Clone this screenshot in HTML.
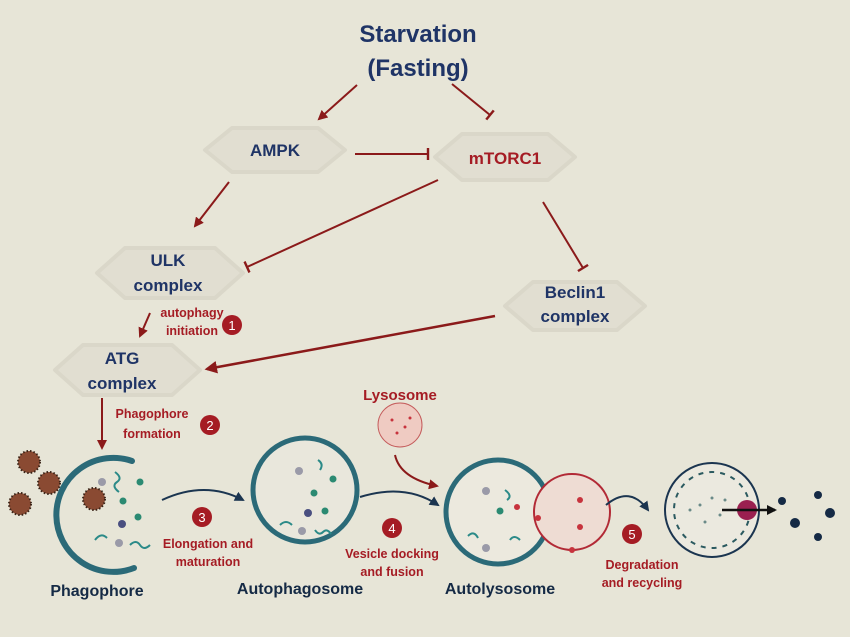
<!DOCTYPE html>
<html><head><meta charset="utf-8"><style>
html,body{margin:0;padding:0;background:#e7e5d7;}
svg{display:block;font-family:"Liberation Sans",sans-serif;font-weight:bold;}
</style></head><body>
<svg width="850" height="637" viewBox="0 0 850 637" xmlns="http://www.w3.org/2000/svg">
<defs>
<marker id="ar" viewBox="0 0 10 10" refX="8" refY="5" markerWidth="5" markerHeight="5" orient="auto"><path d="M0,0 L10,5 L0,10 z" fill="#8b1a1a"/></marker>
<marker id="tb" viewBox="0 0 10 10" refX="5" refY="5" markerWidth="6" markerHeight="6" orient="auto"><path d="M5,0 L5,10" stroke="#8b1a1a" stroke-width="2"/></marker>
<marker id="an" viewBox="0 0 10 10" refX="8" refY="5" markerWidth="5" markerHeight="5" orient="auto"><path d="M0,0 L10,5 L0,10 z" fill="#1b3550"/></marker>
<marker id="ak" viewBox="0 0 10 10" refX="8" refY="5" markerWidth="4" markerHeight="4" orient="auto"><path d="M0,0 L10,5 L0,10 z" fill="#111"/></marker>
</defs>
<rect width="850" height="637" fill="#e7e5d7"/>
<g fill="#e1ded1" stroke="#dad7c9" stroke-width="4" stroke-linejoin="round">
<path d="M205,150 L232,128 L318,128 L345,150 L318,172 L232,172 Z"/>
<path d="M435,157 L462,134 L548,134 L575,157 L548,180 L462,180 Z"/>
<path d="M97,273 L125,248 L215,248 L243,273 L215,298 L125,298 Z"/>
<path d="M505,306 L533,282 L617,282 L645,306 L617,330 L533,330 Z"/>
<path d="M55,370 L83,345 L172,345 L200,370 L172,395 L83,395 Z"/>
</g>
<g text-anchor="middle">
<text x="418" y="42" font-size="24" fill="#1f3466">Starvation</text>
<text x="418" y="76" font-size="24" fill="#1f3466">(Fasting)</text>
<text x="275" y="156" font-size="17" fill="#1f3466">AMPK</text>
<text x="505" y="164" font-size="17" fill="#a51c24">mTORC1</text>
<text x="168" y="266" font-size="17" fill="#1f3466">ULK</text>
<text x="168" y="291" font-size="17" fill="#1f3466">complex</text>
<text x="575" y="298" font-size="17" fill="#1f3466">Beclin1</text>
<text x="575" y="322" font-size="17" fill="#1f3466">complex</text>
<text x="122" y="364" font-size="17" fill="#1f3466">ATG</text>
<text x="122" y="389" font-size="17" fill="#1f3466">complex</text>
</g>
<g stroke="#8b1a1a" stroke-width="2" fill="none">
<line x1="357" y1="85" x2="319" y2="119" marker-end="url(#ar)"/>
<line x1="452" y1="84" x2="490" y2="115" marker-end="url(#tb)"/>
<line x1="355" y1="154" x2="428" y2="154" marker-end="url(#tb)"/>
<line x1="229" y1="182" x2="195" y2="226" marker-end="url(#ar)"/>
<line x1="438" y1="180" x2="247" y2="267" marker-end="url(#tb)"/>
<line x1="543" y1="202" x2="583" y2="268" marker-end="url(#tb)"/>
<line x1="495" y1="316" x2="207" y2="369" stroke-width="2.5" marker-end="url(#ar)"/>
<line x1="150" y1="313" x2="140" y2="336" marker-end="url(#ar)"/>
<line x1="102" y1="398" x2="102" y2="448" marker-end="url(#ar)"/>
</g>
<g font-size="12.5" fill="#a51c24" text-anchor="middle">
<text x="192" y="317">autophagy</text>
<text x="192" y="335">initiation</text>
<text x="152" y="418">Phagophore</text>
<text x="152" y="438">formation</text>
<text x="208" y="548">Elongation and</text>
<text x="208" y="566">maturation</text>
<text x="392" y="558">Vesicle docking</text>
<text x="392" y="576">and fusion</text>
<text x="642" y="569">Degradation</text>
<text x="642" y="587">and recycling</text>
<text x="400" y="400" font-size="15">Lysosome</text>
</g>
<g fill="#a51c24">
<circle cx="232" cy="325" r="10"/><circle cx="210" cy="425" r="10"/><circle cx="202" cy="517" r="10"/><circle cx="392" cy="528" r="10"/><circle cx="632" cy="534" r="10"/>
</g>
<g fill="#fff" font-size="13" text-anchor="middle" font-weight="normal">
<text x="232" y="330">1</text><text x="210" y="430">2</text><text x="202" y="522">3</text><text x="392" y="533">4</text><text x="632" y="539">5</text>
</g>
<g text-anchor="middle" font-size="16" fill="#152a45">
<text x="97" y="596">Phagophore</text>
<text x="300" y="594">Autophagosome</text>
<text x="500" y="594">Autolysosome</text>
</g>
<!-- viruses -->
<g fill="#8a4a32" stroke="#3a2418" stroke-width="2" stroke-dasharray="1.5 2">
<circle cx="29" cy="462" r="11"/><circle cx="49" cy="483" r="11"/><circle cx="20" cy="504" r="11"/><circle cx="94" cy="499" r="11"/><circle cx="290" cy="488" r="11"/><circle cx="477" cy="512" r="11"/>
</g>
<!-- phagophore -->
<path d="M132,461 A57,57 0 1 0 134,568" fill="none" stroke="#2b6a78" stroke-width="6" stroke-linecap="round"/>
<circle cx="305" cy="490" r="52" fill="#e9e7dc" stroke="#2b6a78" stroke-width="5"/>
<circle cx="498" cy="512" r="52" fill="#ece9de" stroke="#2b6a78" stroke-width="5"/>
<circle cx="572" cy="512" r="38" fill="#eedcd3" stroke="#b22a36" stroke-width="2"/>
<circle cx="400" cy="425" r="22" fill="#efcbc2" stroke="#c45b5b" stroke-width="1"/>
<g fill="#c7333d"><circle cx="392" cy="420" r="1.5"/><circle cx="405" cy="427" r="1.5"/><circle cx="397" cy="433" r="1.5"/><circle cx="410" cy="418" r="1.5"/></g>
<g fill="#2b8a72"><circle cx="140" cy="482" r="3.5"/><circle cx="123" cy="501" r="3.5"/><circle cx="138" cy="517" r="3.5"/><circle cx="333" cy="479" r="3.5"/><circle cx="314" cy="493" r="3.5"/><circle cx="325" cy="511" r="3.5"/><circle cx="500" cy="511" r="3.5"/></g>
<g fill="#4a4f80"><circle cx="122" cy="524" r="4"/><circle cx="308" cy="513" r="4"/></g>
<g fill="#9a9aa8"><circle cx="102" cy="482" r="4"/><circle cx="119" cy="543" r="4"/><circle cx="299" cy="471" r="4"/><circle cx="302" cy="531" r="4"/><circle cx="486" cy="491" r="4"/><circle cx="486" cy="548" r="4"/></g>
<g fill="none" stroke="#2b8a88" stroke-width="2">
<path d="M115,472 q8,6 2,10 q-6,4 2,10"/><path d="M95,540 q6,-8 12,-2"/><path d="M130,545 q6,-6 10,0 q4,6 10,0"/><path d="M280,525 q6,-6 12,0"/><path d="M315,530 q4,6 8,2 q4,-4 8,2"/><path d="M320,470 q4,-6 -2,-10"/>
<path d="M468,536 q6,-6 10,2"/><path d="M505,490 q8,6 2,10"/><path d="M510,540 q4,-6 10,0"/>
</g>
<g fill="#c7333d"><circle cx="517" cy="507" r="3"/><circle cx="538" cy="518" r="3"/><circle cx="580" cy="527" r="3"/><circle cx="580" cy="500" r="3"/><circle cx="572" cy="550" r="3"/></g>
<!-- final -->
<circle cx="712" cy="510" r="47" fill="#ebe9df" stroke="#1b3550" stroke-width="2"/>
<circle cx="712" cy="510" r="38" fill="none" stroke="#2b5a60" stroke-width="2" stroke-dasharray="5 6"/>
<g fill="#6a8a88"><circle cx="700" cy="505" r="1.5"/><circle cx="712" cy="498" r="1.5"/><circle cx="720" cy="515" r="1.5"/><circle cx="705" cy="522" r="1.5"/><circle cx="690" cy="510" r="1.5"/><circle cx="725" cy="500" r="1.5"/></g>
<circle cx="747" cy="510" r="10" fill="#9a2050"/>
<line x1="722" y1="510" x2="775" y2="510" stroke="#111" stroke-width="2.5" marker-end="url(#ak)"/>
<g fill="#152a45"><circle cx="782" cy="501" r="4"/><circle cx="818" cy="495" r="4"/><circle cx="830" cy="513" r="5"/><circle cx="795" cy="523" r="5"/><circle cx="818" cy="537" r="4"/></g>
<!-- curved arrows -->
<g fill="none" stroke="#1b3550" stroke-width="2">
<path d="M162,500 Q205,480 243,500" marker-end="url(#an)"/>
<path d="M360,497 Q405,483 438,505" marker-end="url(#an)"/>
<path d="M606,505 Q630,485 648,510" marker-end="url(#an)"/>
</g>
<path d="M395,455 Q400,478 437,486" fill="none" stroke="#8b1a1a" stroke-width="2" marker-end="url(#ar)"/>
</svg>
</body></html>
